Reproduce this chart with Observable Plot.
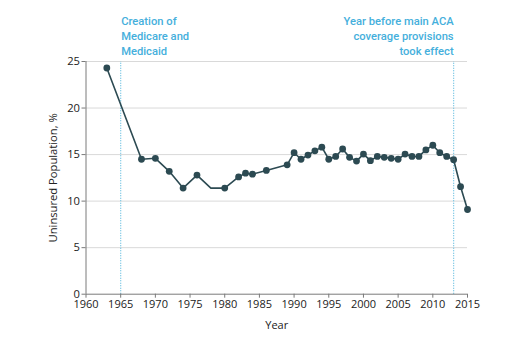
<!DOCTYPE html>
<html>
<head>
<meta charset="utf-8">
<script src="https://cdn.jsdelivr.net/npm/d3@7"></script>
<script src="https://cdn.jsdelivr.net/npm/@observablehq/plot@0.6"></script>
<style>
  html, body { margin: 0; padding: 0; background: #fff; }
  #chart { width: 517px; height: 347px; }
</style>
</head>
<body>
<div id="chart"></div>
<script>
const years = [1963, 1968, 1970, 1972, 1974, 1976, 1978, 1980, 1982, 1983, 1984, 1986, 1989,
  1990, 1991, 1992, 1993, 1994, 1995, 1996, 1997, 1998, 1999, 2000, 2001, 2002, 2003, 2004,
  2005, 2006, 2007, 2008, 2009, 2010, 2011, 2012, 2013, 2014, 2015];
const uninsured = [24.3, 14.5, 14.6, 13.2, 11.4, 12.8, 11.4, 11.4, 12.6, 13.0, 12.9, 13.3, 13.9,
  15.2, 14.5, 14.95, 15.4, 15.8, 14.5, 14.8, 15.6, 14.7, 14.3, 15.05, 14.35, 14.8, 14.7, 14.6,
  14.5, 15.05, 14.8, 14.8, 15.5, 16.0, 15.2, 14.8, 14.45, 11.55, 9.1];
const noMarkerYears = [1978];
const xTicks = [1960, 1965, 1970, 1975, 1980, 1985, 1990, 1995, 2000, 2005, 2010, 2015];
const yTicks = [0, 5, 10, 15, 20, 25];
const eventYears = [1965, 2013];
const eventLabels = ["Creation of\nMedicare and\nMedicaid", "Year before main ACA\ncoverage provisions\ntook effect"];
const yTitle = "Uninsured Population, %";
const xTitle = "Year";

const data = years.map((y, i) => ({year: y, value: uninsured[i]}));
const markers = data.filter(d => !noMarkerYears.includes(d.year));
const events = eventYears.map((y, i) => ({year: y, label: eventLabels[i]}));

const lineColor = "#2c4a52";
const blue = "#45afdc";
const font = "'Open Sans', 'Noto Sans', sans-serif";
const annFont = "Roboto, 'Open Sans', sans-serif";

const chart = Plot.plot({
  width: 517,
  height: 347,
  marginLeft: 85.5,
  marginRight: 50,
  marginTop: 61,
  marginBottom: 53.3,
  style: {fontFamily: font, fontSize: "11px", color: "#222", background: "#fff", overflow: "visible"},
  x: {domain: [1960, 2015], ticks: xTicks, tickFormat: d => String(d), label: null},
  y: {domain: [0, 25], ticks: yTicks, label: null},
  marks: [
    Plot.gridY(yTicks.filter(t => t > 0), {stroke: "#d9d9d9", strokeOpacity: 1, strokeWidth: 1}),
    Plot.ruleX(events, {x: "year", y1: 0, y2: 25, stroke: "#62bde0", strokeWidth: 1.2, strokeDasharray: "1,1.5"}),
    Plot.ruleY([0], {stroke: "#7a7a7a", strokeWidth: 1}),
    Plot.ruleX([1960], {y1: 0, y2: 25, stroke: "#7a7a7a", strokeWidth: 1}),
    Plot.axisX({ticks: xTicks, tickFormat: d => String(d), tickSize: 4, tickPadding: 2, stroke: "#7a7a7a", label: xTitle, labelAnchor: "center", labelArrow: "none", labelOffset: 35, fontSize: 11, fill: "#222"}),
    Plot.axisY({ticks: yTicks, tickSize: 4, tickPadding: 2, stroke: "#7a7a7a", label: null, fontSize: 11.2, fill: "#222"}),
    Plot.text([yTitle], {frameAnchor: "left", text: d => d, rotate: -90, dx: -33, textAnchor: "middle", lineAnchor: "middle", fontSize: 11.2, fill: "#222"}),
    Plot.line(data, {x: "year", y: "value", stroke: lineColor, strokeWidth: 1.6}),
    Plot.dot(markers, {x: "year", y: "value", r: 3.4, fill: lineColor, stroke: "none"}),
    Plot.text(events.slice(0, 1), {x: "year", y: 25, text: "label", textAnchor: "start", lineAnchor: "bottom", lineHeight: 1.3, dx: 0.5, dy: -7, fill: blue, fontSize: 11.2, fontWeight: 500, fontFamily: annFont}),
    Plot.text(events.slice(1), {x: "year", y: 25, text: "label", textAnchor: "end", lineAnchor: "bottom", lineHeight: 1.3, dx: 0, dy: -7, fill: blue, fontSize: 11.2, fontWeight: 500, fontFamily: annFont})
  ]
});
document.getElementById("chart").appendChild(chart);
</script>
</body>
</html>
